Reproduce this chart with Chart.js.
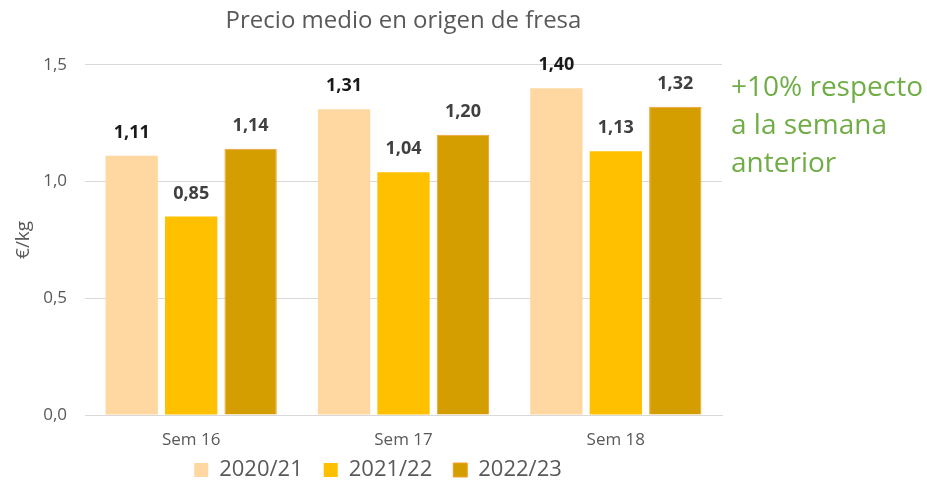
<!DOCTYPE html>
<html>
<head>
<meta charset="utf-8">
<script src="https://cdn.jsdelivr.net/npm/chart.js@4"></script>
<style>
  body { margin: 0; background: #fff; }
  #wrap { position: relative; width: 927px; height: 483px; }
  #note {
    position: absolute; left: 731px; top: 66px;
    font-family: 'Open Sans', sans-serif; font-size: 28px; line-height: 38px;
    color: #70AD47;
  }
</style>
</head>
<body>
<div id="wrap">
  <canvas id="chartFresa" width="927" height="483"></canvas>
  <div id="note">+10% respecto<br>a la semana<br>anterior</div>
</div>
<script>
const categories = ['Sem 16', 'Sem 17', 'Sem 18'];
const seasons = ['2020/21', '2021/22', '2022/23'];
const precio2021 = [1.11, 1.31, 1.40];
const precio2122 = [0.85, 1.04, 1.13];
const precio2223 = [1.14, 1.20, 1.32];

const fmt = (v) => v.toFixed(2).replace('.', ',');

// etiquetas encima de cada barra
const labelsPlugin = {
  id: 'barLabels',
  afterDatasetsDraw(chart) {
    const ctx = chart.ctx;
    ctx.save();
    ctx.font = 'bold 18px "Open Sans", sans-serif';
    ctx.textAlign = 'center';
    ctx.textBaseline = 'bottom';
    chart.data.datasets.forEach((ds, i) => {
      ctx.fillStyle = i === 0 ? '#1a1a1a' : '#404040';
      chart.getDatasetMeta(i).data.forEach((bar, j) => {
        ctx.fillText(fmt(ds.data[j]), bar.x, bar.y - 14);
      });
    });
    ctx.restore();
  }
};

// sube la leyenda un poco (el padding de la leyenda es grande para separar items)
const legendShift = {
  id: 'legendShift',
  afterLayout(chart) { chart.legend.top -= 12; }
};

const config = {
  type: 'bar',
  data: {
    labels: categories,
    datasets: [
      { label: seasons[0], data: precio2021, backgroundColor: '#FFD7A1', borderColor: '#FFD7A1', borderWidth: 0 },
      { label: seasons[1], data: precio2122, backgroundColor: '#FFC000', borderColor: '#FFC000', borderWidth: 0 },
      { label: seasons[2], data: precio2223, backgroundColor: '#D49D00', borderColor: '#F0A030', borderWidth: 1 }
    ]
  },
  options: {
    responsive: false,
    animation: false,
    categoryPercentage: 0.84,
    barPercentage: 0.88,
    layout: { padding: { left: 0, right: 171, top: 0, bottom: 0 } },
    plugins: {
      title: {
        display: true,
        fullSize: false,
        text: 'Precio medio en origen de fresa',
        color: '#595959',
        font: { family: 'Open Sans', size: 24, weight: 'normal' },
        padding: { top: 7, bottom: 29 }
      },
      legend: {
        position: 'bottom',
        maxHeight: 33,
        labels: {
          color: '#595959',
          font: { family: 'Open Sans', size: 22 },
          boxWidth: 14, boxHeight: 14, padding: 21
        }
      },
      tooltip: { enabled: false }
    },
    scales: {
      x: {
        grid: { display: false, drawTicks: false },
        border: { color: '#d9d9d9' },
        ticks: { color: '#595959', font: { family: 'Open Sans', size: 17 }, padding: 15 },
        afterFit: (s) => { s.height = 35; }
      },
      y: {
        min: 0, max: 1.5,
        grid: { color: '#d9d9d9', drawTicks: false },
        border: { display: false },
        ticks: {
          stepSize: 0.5, padding: 18,
          color: '#595959', font: { family: 'Open Sans', size: 17 },
          callback: (v) => v.toFixed(1).replace('.', ',')
        },
        title: {
          display: true, text: '€/kg', color: '#595959',
          font: { family: 'Open Sans', size: 19 }, padding: { top: 12, bottom: 0 }
        },
        afterFit: (s) => { s.width = 85; }
      },
      // eje vacío a la derecha para dejar sitio al comentario
      yRight: {
        position: 'right',
        grid: { display: false },
        border: { display: false },
        ticks: { display: false },
        afterFit: (s) => { s.width = 34; }
      }
    }
  },
  plugins: [labelsPlugin, legendShift]
};

const chartFresa = new Chart(document.getElementById('chartFresa'), config);
</script>
</body>
</html>
